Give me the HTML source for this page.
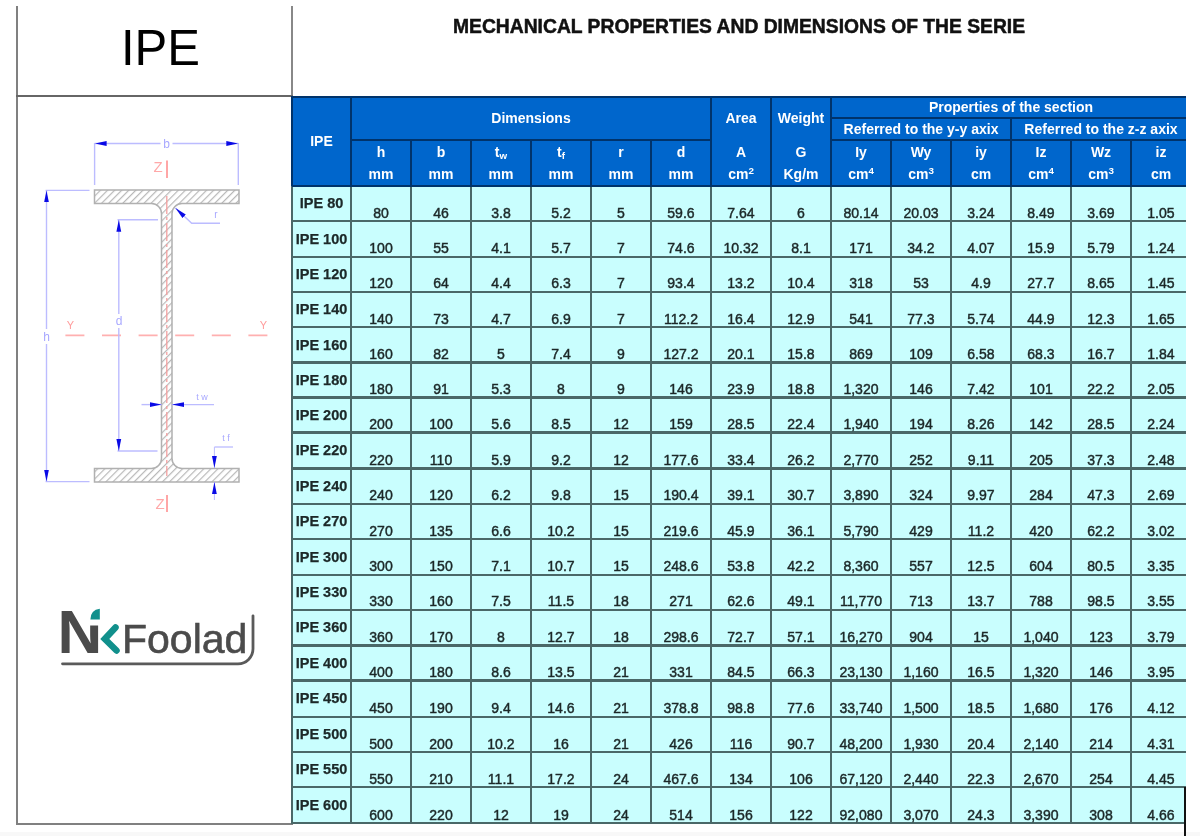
<!DOCTYPE html>
<html><head><meta charset="utf-8"><title>IPE</title>
<style>
html,body{margin:0;padding:0;background:#fff;}
body{width:1200px;height:836px;position:relative;overflow:hidden;font-family:"Liberation Sans",Arial,sans-serif;}
.l{position:absolute;}
.t{position:absolute;text-align:center;white-space:nowrap;line-height:1;}
.hd{transform:scale(1,1);transform-origin:50% 11.85px;font-size:14px;font-weight:bold;color:#fff;}
.lb{transform:scale(1.0,1);transform-origin:50% 12.27px;font-size:14.5px;font-weight:bold;color:#1c2828;-webkit-text-stroke:0.25px #1c2828;}
.vl{transform:scale(0.97,1);transform-origin:50% 12.27px;font-size:14.5px;color:#1c2828;-webkit-text-stroke:0.45px #1c2828;}
sub{font-size:70%;vertical-align:-2px;line-height:0;}
sup{font-size:70%;vertical-align:5px;line-height:0;}
#title{position:absolute;left:453px;top:17.2px;font-size:19.3px;font-weight:bold;color:#111;-webkit-text-stroke:0.5px #111;white-space:nowrap;line-height:1;}
#ipe{position:absolute;left:120.8px;top:23.2px;font-size:50px;transform:scaleX(0.98);transform-origin:0 0;color:#000;line-height:1;}
#bot{position:absolute;left:0;top:832px;width:1200px;height:4px;background:#f8f8f8;}
#logoN{position:absolute;left:57.5px;top:600.9px;font-size:62px;font-weight:bold;color:#4b4b4b;line-height:1;}
#logoF{position:absolute;left:122px;top:618.5px;font-size:41px;letter-spacing:0px;-webkit-text-stroke:0.6px #4b4b4b;color:#4b4b4b;line-height:1;}
#wrap{position:absolute;left:0;top:0;width:1200px;height:836px;filter:blur(0.6px);}
</style></head><body>
<div id="wrap">
<div id="bot"></div>
<!-- left panel frame -->
<div class="l" style="left:15.5px;top:6px;width:2px;height:818.5px;background:#808080"></div>
<div class="l" style="left:290.5px;top:6px;width:2px;height:90px;background:#888"></div>
<div class="l" style="left:15.5px;top:94.5px;width:277px;height:2px;background:#666"></div>
<div class="l" style="left:15.5px;top:822.5px;width:277px;height:2px;background:#808080"></div>
<svg class="l" style="left:0;top:0" width="292" height="836" viewBox="0 0 292 836">
<defs>
<pattern id="hatch" patternUnits="userSpaceOnUse" width="5" height="5" patternTransform="rotate(45)">
<rect x="0" y="0" width="1.2" height="5" fill="#b8b8b8"/>
</pattern>
<marker id="ar" viewBox="0 0 12 6" refX="12" refY="3" markerWidth="12" markerHeight="6" markerUnits="userSpaceOnUse" orient="auto-start-reverse">
<path d="M0,0.6 L12,3 L0,5.4 Z" fill="#0a0ae6"/>
</marker>
</defs>
<!-- section -->
<path d="M94.5,190 H239 V203.5 H182 A10,10 0 0 0 172,213.5 V458.5 A10,10 0 0 0 182,468.5 H239 V482 H94.5 V468.5 H151.5 A10,10 0 0 0 161.5,458.5 V213.5 A10,10 0 0 0 151.5,203.5 H94.5 Z" fill="url(#hatch)" stroke="#b0b0b0" stroke-width="1.5"/>
<!-- Z axis -->
<line x1="166.8" y1="196" x2="166.8" y2="476" stroke="#f4a0a0" stroke-width="1.3" stroke-dasharray="18,3,3,3"/>
<line x1="167" y1="160.5" x2="167" y2="178" stroke="#ff9090" stroke-width="1.6"/>
<line x1="167" y1="495" x2="167" y2="512" stroke="#ff9090" stroke-width="1.6"/>
<text x="158" y="171.5" font-family="Liberation Sans, sans-serif" font-size="15" fill="#ffa8a8" text-anchor="middle">Z</text>
<text x="160" y="509" font-family="Liberation Sans, sans-serif" font-size="15" fill="#ffa8a8" text-anchor="middle">Z</text>
<!-- Y axis -->
<line x1="65.4" y1="335.4" x2="268" y2="335.4" stroke="#ffb0b0" stroke-width="1.6" stroke-dasharray="19,17.6"/>
<text x="70.5" y="329" font-family="Liberation Sans, sans-serif" font-size="11" fill="#ff9c9c" text-anchor="middle">Y</text>
<text x="263.5" y="329" font-family="Liberation Sans, sans-serif" font-size="11" fill="#ff9c9c" text-anchor="middle">Y</text>
<g stroke="#bcbcff" stroke-width="1.4" fill="none">
<!-- b -->
<line x1="94.6" y1="143" x2="94.6" y2="185"/>
<line x1="238.3" y1="143" x2="238.3" y2="185"/>
<line x1="160.5" y1="143.5" x2="94.6" y2="143.5" marker-end="url(#ar)"/>
<line x1="172.5" y1="143.5" x2="238.3" y2="143.5" marker-end="url(#ar)"/>
<!-- h -->
<line x1="45.6" y1="190.4" x2="89.5" y2="190.4"/>
<line x1="45.6" y1="481.6" x2="89.5" y2="481.6"/>
<line x1="46.5" y1="329" x2="46.5" y2="190.4" marker-end="url(#ar)"/>
<line x1="46.5" y1="344" x2="46.5" y2="481.6" marker-end="url(#ar)"/>
<!-- d -->
<line x1="117.5" y1="219.8" x2="158" y2="219.8"/>
<line x1="117.5" y1="451" x2="157.5" y2="451"/>
<line x1="118.8" y1="314" x2="118.8" y2="219.8" marker-end="url(#ar)"/>
<line x1="118.8" y1="328" x2="118.8" y2="451" marker-end="url(#ar)"/>
<!-- tw -->
<line x1="141.5" y1="404.6" x2="161.5" y2="404.6" marker-end="url(#ar)"/>
<line x1="214" y1="404.6" x2="172" y2="404.6" marker-end="url(#ar)"/>
<!-- tf -->
<line x1="214.4" y1="447" x2="214.4" y2="468" marker-end="url(#ar)" stroke-width="1"/>
<line x1="214.4" y1="500" x2="214.4" y2="482" marker-end="url(#ar)" stroke-width="1"/>
<line x1="214.4" y1="447" x2="233" y2="447" stroke-width="1.3"/>
<!-- r -->
<polyline points="220,223.3 191.7,223.3 175.4,207.9" marker-end="url(#ar)"/>
</g>
<g font-family="Liberation Sans, sans-serif" fill="#a8a8ff" text-anchor="middle">
<text x="166.5" y="148" font-size="12">b</text>
<text x="46.7" y="341" font-size="12">h</text>
<text x="119" y="325" font-size="12">d</text>
<text x="216" y="218" font-size="10">r</text>
<text x="202" y="400" font-size="9">t w</text>
<text x="226" y="441" font-size="9">t f</text>
</g>
</svg>

<div id="logoN">N</div>
<div id="logoF">Foolad</div>
<svg class="l" style="left:0;top:580px" width="292" height="100" viewBox="0 580 292 100">
<rect x="89" y="600" width="13" height="25.5" fill="#fff"/>
<path d="M99.8,608.8 L99.8,619.4 L90.4,619.4 Q90.6,610 99.8,608.8 Z" fill="#11908c"/>
<polyline points="115.5,627.5 104.8,639 116.5,650.5" fill="none" stroke="#11908c" stroke-width="6.5" stroke-linejoin="miter" stroke-linecap="round"/>
<path d="M62.5,663.8 H238 A15,15 0 0 0 253,648.8 V615.8" fill="none" stroke="#5a5a5a" stroke-width="2.8" stroke-linecap="round"/>
</svg>
<div id="ipe">IPE</div>
<div id="title">MECHANICAL PROPERTIES AND DIMENSIONS OF THE SERIE</div>
<div class="l" style="left:292px;top:96px;width:894px;height:90px;background:#0066cc"></div>
<div class="l" style="left:292px;top:186px;width:894px;height:637.2px;background:#c9fefe"></div>
<div class="l" style="left:292px;top:219.8px;width:894px;height:2.4px;background:#4a6868"></div>
<div class="l" style="left:292px;top:255.5px;width:894px;height:2.4px;background:#4a6868"></div>
<div class="l" style="left:292px;top:290.7px;width:894px;height:2.4px;background:#4a6868"></div>
<div class="l" style="left:292px;top:326.1px;width:894px;height:2.4px;background:#4a6868"></div>
<div class="l" style="left:292px;top:361.2px;width:894px;height:2.4px;background:#4a6868"></div>
<div class="l" style="left:292px;top:396.4px;width:894px;height:2.4px;background:#4a6868"></div>
<div class="l" style="left:292px;top:431.4px;width:894px;height:2.4px;background:#4a6868"></div>
<div class="l" style="left:292px;top:467.4px;width:894px;height:2.4px;background:#4a6868"></div>
<div class="l" style="left:292px;top:502.6px;width:894px;height:2.4px;background:#4a6868"></div>
<div class="l" style="left:292px;top:538.1px;width:894px;height:2.4px;background:#4a6868"></div>
<div class="l" style="left:292px;top:573.5px;width:894px;height:2.4px;background:#4a6868"></div>
<div class="l" style="left:292px;top:608.7px;width:894px;height:2.4px;background:#4a6868"></div>
<div class="l" style="left:292px;top:644.2px;width:894px;height:2.4px;background:#4a6868"></div>
<div class="l" style="left:292px;top:679.4px;width:894px;height:2.4px;background:#4a6868"></div>
<div class="l" style="left:292px;top:715.6px;width:894px;height:2.4px;background:#4a6868"></div>
<div class="l" style="left:292px;top:751.1px;width:894px;height:2.4px;background:#4a6868"></div>
<div class="l" style="left:292px;top:786px;width:894px;height:2.4px;background:#4a6868"></div>
<div class="l" style="left:292px;top:822px;width:894px;height:2.4px;background:#4a6868"></div>
<div class="l" style="left:290.8px;top:186px;width:2.4px;height:638.4px;background:#4a6868"></div>
<div class="l" style="left:349.8px;top:186px;width:2.4px;height:638.4px;background:#4a6868"></div>
<div class="l" style="left:409.8px;top:186px;width:2.4px;height:638.4px;background:#4a6868"></div>
<div class="l" style="left:469.8px;top:186px;width:2.4px;height:638.4px;background:#4a6868"></div>
<div class="l" style="left:529.8px;top:186px;width:2.4px;height:638.4px;background:#4a6868"></div>
<div class="l" style="left:589.8px;top:186px;width:2.4px;height:638.4px;background:#4a6868"></div>
<div class="l" style="left:649.8px;top:186px;width:2.4px;height:638.4px;background:#4a6868"></div>
<div class="l" style="left:709.8px;top:186px;width:2.4px;height:638.4px;background:#4a6868"></div>
<div class="l" style="left:769.8px;top:186px;width:2.4px;height:638.4px;background:#4a6868"></div>
<div class="l" style="left:829.8px;top:186px;width:2.4px;height:638.4px;background:#4a6868"></div>
<div class="l" style="left:889.8px;top:186px;width:2.4px;height:638.4px;background:#4a6868"></div>
<div class="l" style="left:949.8px;top:186px;width:2.4px;height:638.4px;background:#4a6868"></div>
<div class="l" style="left:1009.8px;top:186px;width:2.4px;height:638.4px;background:#4a6868"></div>
<div class="l" style="left:1069.8px;top:186px;width:2.4px;height:638.4px;background:#4a6868"></div>
<div class="l" style="left:1129.8px;top:186px;width:2.4px;height:638.4px;background:#4a6868"></div>
<div class="l" style="left:292px;top:96px;width:894px;height:2px;background:#00336b"></div>
<div class="l" style="left:292px;top:185px;width:894px;height:2px;background:#00336b"></div>
<div class="l" style="left:291px;top:96px;width:2px;height:90px;background:#00336b"></div>
<div class="l" style="left:350px;top:96px;width:2px;height:90px;background:#00336b"></div>
<div class="l" style="left:410px;top:139.5px;width:2px;height:46.5px;background:#00336b"></div>
<div class="l" style="left:470px;top:139.5px;width:2px;height:46.5px;background:#00336b"></div>
<div class="l" style="left:530px;top:139.5px;width:2px;height:46.5px;background:#00336b"></div>
<div class="l" style="left:590px;top:139.5px;width:2px;height:46.5px;background:#00336b"></div>
<div class="l" style="left:650px;top:139.5px;width:2px;height:46.5px;background:#00336b"></div>
<div class="l" style="left:710px;top:96px;width:2px;height:90px;background:#00336b"></div>
<div class="l" style="left:770px;top:96px;width:2px;height:90px;background:#00336b"></div>
<div class="l" style="left:830px;top:96px;width:2px;height:90px;background:#00336b"></div>
<div class="l" style="left:890px;top:139.5px;width:2px;height:46.5px;background:#00336b"></div>
<div class="l" style="left:950px;top:139.5px;width:2px;height:46.5px;background:#00336b"></div>
<div class="l" style="left:1010px;top:117.5px;width:2px;height:68.5px;background:#00336b"></div>
<div class="l" style="left:1070px;top:139.5px;width:2px;height:46.5px;background:#00336b"></div>
<div class="l" style="left:1130px;top:139.5px;width:2px;height:46.5px;background:#00336b"></div>
<div class="l" style="left:351px;top:138.5px;width:360px;height:2px;background:#00336b"></div>
<div class="l" style="left:831px;top:116.5px;width:355px;height:2px;background:#00336b"></div>
<div class="l" style="left:831px;top:138.5px;width:355px;height:2px;background:#00336b"></div>
<div class="t hd" style="left:292px;width:59px;top:134.15px;">IPE</div>
<div class="t hd" style="left:351px;width:360px;top:110.65px;">Dimensions</div>
<div class="t hd" style="left:351px;width:60px;top:144.65px;">h</div>
<div class="t hd" style="left:351px;width:60px;top:166.65px;">mm</div>
<div class="t hd" style="left:411px;width:60px;top:144.65px;">b</div>
<div class="t hd" style="left:411px;width:60px;top:166.65px;">mm</div>
<div class="t hd" style="left:471px;width:60px;top:144.65px;">t<sub>w</sub></div>
<div class="t hd" style="left:471px;width:60px;top:166.65px;">mm</div>
<div class="t hd" style="left:531px;width:60px;top:144.65px;">t<sub>f</sub></div>
<div class="t hd" style="left:531px;width:60px;top:166.65px;">mm</div>
<div class="t hd" style="left:591px;width:60px;top:144.65px;">r</div>
<div class="t hd" style="left:591px;width:60px;top:166.65px;">mm</div>
<div class="t hd" style="left:651px;width:60px;top:144.65px;">d</div>
<div class="t hd" style="left:651px;width:60px;top:166.65px;">mm</div>
<div class="t hd" style="left:711px;width:60px;top:144.65px;">A</div>
<div class="t hd" style="left:711px;width:60px;top:166.65px;">cm<sup>2</sup></div>
<div class="t hd" style="left:771px;width:60px;top:144.65px;">G</div>
<div class="t hd" style="left:771px;width:60px;top:166.65px;">Kg/m</div>
<div class="t hd" style="left:831px;width:60px;top:144.65px;">Iy</div>
<div class="t hd" style="left:831px;width:60px;top:166.65px;">cm<sup>4</sup></div>
<div class="t hd" style="left:891px;width:60px;top:144.65px;">Wy</div>
<div class="t hd" style="left:891px;width:60px;top:166.65px;">cm<sup>3</sup></div>
<div class="t hd" style="left:951px;width:60px;top:144.65px;">iy</div>
<div class="t hd" style="left:951px;width:60px;top:166.65px;">cm</div>
<div class="t hd" style="left:1011px;width:60px;top:144.65px;">Iz</div>
<div class="t hd" style="left:1011px;width:60px;top:166.65px;">cm<sup>4</sup></div>
<div class="t hd" style="left:1071px;width:60px;top:144.65px;">Wz</div>
<div class="t hd" style="left:1071px;width:60px;top:166.65px;">cm<sup>3</sup></div>
<div class="t hd" style="left:1131px;width:60px;top:144.65px;">iz</div>
<div class="t hd" style="left:1131px;width:60px;top:166.65px;">cm</div>
<div class="t hd" style="left:711px;width:60px;top:111.15px;">Area</div>
<div class="t hd" style="left:771px;width:60px;top:111.15px;">Weight</div>
<div class="t hd" style="left:831px;width:360px;top:99.55px;">Properties of the section</div>
<div class="t hd" style="left:831px;width:180px;top:122.15px;">Referred to the y-y axix</div>
<div class="t hd" style="left:1011px;width:180px;top:122.15px;">Referred to the z-z axix</div>
<div class="t lb" style="left:292px;width:59px;top:195.98px;">IPE 80</div>
<div class="t vl" style="left:351px;width:60px;top:205.53px;">80</div>
<div class="t vl" style="left:411px;width:60px;top:205.53px;">46</div>
<div class="t vl" style="left:471px;width:60px;top:205.53px;">3.8</div>
<div class="t vl" style="left:531px;width:60px;top:205.53px;">5.2</div>
<div class="t vl" style="left:591px;width:60px;top:205.53px;">5</div>
<div class="t vl" style="left:651px;width:60px;top:205.53px;">59.6</div>
<div class="t vl" style="left:711px;width:60px;top:205.53px;">7.64</div>
<div class="t vl" style="left:771px;width:60px;top:205.53px;">6</div>
<div class="t vl" style="left:831px;width:60px;top:205.53px;">80.14</div>
<div class="t vl" style="left:891px;width:60px;top:205.53px;">20.03</div>
<div class="t vl" style="left:951px;width:60px;top:205.53px;">3.24</div>
<div class="t vl" style="left:1011px;width:60px;top:205.53px;">8.49</div>
<div class="t vl" style="left:1071px;width:60px;top:205.53px;">3.69</div>
<div class="t vl" style="left:1131px;width:60px;top:205.53px;">1.05</div>
<div class="t lb" style="left:292px;width:59px;top:231.58px;">IPE 100</div>
<div class="t vl" style="left:351px;width:60px;top:241.23px;">100</div>
<div class="t vl" style="left:411px;width:60px;top:241.23px;">55</div>
<div class="t vl" style="left:471px;width:60px;top:241.23px;">4.1</div>
<div class="t vl" style="left:531px;width:60px;top:241.23px;">5.7</div>
<div class="t vl" style="left:591px;width:60px;top:241.23px;">7</div>
<div class="t vl" style="left:651px;width:60px;top:241.23px;">74.6</div>
<div class="t vl" style="left:711px;width:60px;top:241.23px;">10.32</div>
<div class="t vl" style="left:771px;width:60px;top:241.23px;">8.1</div>
<div class="t vl" style="left:831px;width:60px;top:241.23px;">171</div>
<div class="t vl" style="left:891px;width:60px;top:241.23px;">34.2</div>
<div class="t vl" style="left:951px;width:60px;top:241.23px;">4.07</div>
<div class="t vl" style="left:1011px;width:60px;top:241.23px;">15.9</div>
<div class="t vl" style="left:1071px;width:60px;top:241.23px;">5.79</div>
<div class="t vl" style="left:1131px;width:60px;top:241.23px;">1.24</div>
<div class="t lb" style="left:292px;width:59px;top:267.03px;">IPE 120</div>
<div class="t vl" style="left:351px;width:60px;top:276.43px;">120</div>
<div class="t vl" style="left:411px;width:60px;top:276.43px;">64</div>
<div class="t vl" style="left:471px;width:60px;top:276.43px;">4.4</div>
<div class="t vl" style="left:531px;width:60px;top:276.43px;">6.3</div>
<div class="t vl" style="left:591px;width:60px;top:276.43px;">7</div>
<div class="t vl" style="left:651px;width:60px;top:276.43px;">93.4</div>
<div class="t vl" style="left:711px;width:60px;top:276.43px;">13.2</div>
<div class="t vl" style="left:771px;width:60px;top:276.43px;">10.4</div>
<div class="t vl" style="left:831px;width:60px;top:276.43px;">318</div>
<div class="t vl" style="left:891px;width:60px;top:276.43px;">53</div>
<div class="t vl" style="left:951px;width:60px;top:276.43px;">4.9</div>
<div class="t vl" style="left:1011px;width:60px;top:276.43px;">27.7</div>
<div class="t vl" style="left:1071px;width:60px;top:276.43px;">8.65</div>
<div class="t vl" style="left:1131px;width:60px;top:276.43px;">1.45</div>
<div class="t lb" style="left:292px;width:59px;top:302.33px;">IPE 140</div>
<div class="t vl" style="left:351px;width:60px;top:311.83px;">140</div>
<div class="t vl" style="left:411px;width:60px;top:311.83px;">73</div>
<div class="t vl" style="left:471px;width:60px;top:311.83px;">4.7</div>
<div class="t vl" style="left:531px;width:60px;top:311.83px;">6.9</div>
<div class="t vl" style="left:591px;width:60px;top:311.83px;">7</div>
<div class="t vl" style="left:651px;width:60px;top:311.83px;">112.2</div>
<div class="t vl" style="left:711px;width:60px;top:311.83px;">16.4</div>
<div class="t vl" style="left:771px;width:60px;top:311.83px;">12.9</div>
<div class="t vl" style="left:831px;width:60px;top:311.83px;">541</div>
<div class="t vl" style="left:891px;width:60px;top:311.83px;">77.3</div>
<div class="t vl" style="left:951px;width:60px;top:311.83px;">5.74</div>
<div class="t vl" style="left:1011px;width:60px;top:311.83px;">44.9</div>
<div class="t vl" style="left:1071px;width:60px;top:311.83px;">12.3</div>
<div class="t vl" style="left:1131px;width:60px;top:311.83px;">1.65</div>
<div class="t lb" style="left:292px;width:59px;top:337.58px;">IPE 160</div>
<div class="t vl" style="left:351px;width:60px;top:346.93px;">160</div>
<div class="t vl" style="left:411px;width:60px;top:346.93px;">82</div>
<div class="t vl" style="left:471px;width:60px;top:346.93px;">5</div>
<div class="t vl" style="left:531px;width:60px;top:346.93px;">7.4</div>
<div class="t vl" style="left:591px;width:60px;top:346.93px;">9</div>
<div class="t vl" style="left:651px;width:60px;top:346.93px;">127.2</div>
<div class="t vl" style="left:711px;width:60px;top:346.93px;">20.1</div>
<div class="t vl" style="left:771px;width:60px;top:346.93px;">15.8</div>
<div class="t vl" style="left:831px;width:60px;top:346.93px;">869</div>
<div class="t vl" style="left:891px;width:60px;top:346.93px;">109</div>
<div class="t vl" style="left:951px;width:60px;top:346.93px;">6.58</div>
<div class="t vl" style="left:1011px;width:60px;top:346.93px;">68.3</div>
<div class="t vl" style="left:1071px;width:60px;top:346.93px;">16.7</div>
<div class="t vl" style="left:1131px;width:60px;top:346.93px;">1.84</div>
<div class="t lb" style="left:292px;width:59px;top:372.73px;">IPE 180</div>
<div class="t vl" style="left:351px;width:60px;top:382.13px;">180</div>
<div class="t vl" style="left:411px;width:60px;top:382.13px;">91</div>
<div class="t vl" style="left:471px;width:60px;top:382.13px;">5.3</div>
<div class="t vl" style="left:531px;width:60px;top:382.13px;">8</div>
<div class="t vl" style="left:591px;width:60px;top:382.13px;">9</div>
<div class="t vl" style="left:651px;width:60px;top:382.13px;">146</div>
<div class="t vl" style="left:711px;width:60px;top:382.13px;">23.9</div>
<div class="t vl" style="left:771px;width:60px;top:382.13px;">18.8</div>
<div class="t vl" style="left:831px;width:60px;top:382.13px;">1,320</div>
<div class="t vl" style="left:891px;width:60px;top:382.13px;">146</div>
<div class="t vl" style="left:951px;width:60px;top:382.13px;">7.42</div>
<div class="t vl" style="left:1011px;width:60px;top:382.13px;">101</div>
<div class="t vl" style="left:1071px;width:60px;top:382.13px;">22.2</div>
<div class="t vl" style="left:1131px;width:60px;top:382.13px;">2.05</div>
<div class="t lb" style="left:292px;width:59px;top:407.83px;">IPE 200</div>
<div class="t vl" style="left:351px;width:60px;top:417.13px;">200</div>
<div class="t vl" style="left:411px;width:60px;top:417.13px;">100</div>
<div class="t vl" style="left:471px;width:60px;top:417.13px;">5.6</div>
<div class="t vl" style="left:531px;width:60px;top:417.13px;">8.5</div>
<div class="t vl" style="left:591px;width:60px;top:417.13px;">12</div>
<div class="t vl" style="left:651px;width:60px;top:417.13px;">159</div>
<div class="t vl" style="left:711px;width:60px;top:417.13px;">28.5</div>
<div class="t vl" style="left:771px;width:60px;top:417.13px;">22.4</div>
<div class="t vl" style="left:831px;width:60px;top:417.13px;">1,940</div>
<div class="t vl" style="left:891px;width:60px;top:417.13px;">194</div>
<div class="t vl" style="left:951px;width:60px;top:417.13px;">8.26</div>
<div class="t vl" style="left:1011px;width:60px;top:417.13px;">142</div>
<div class="t vl" style="left:1071px;width:60px;top:417.13px;">28.5</div>
<div class="t vl" style="left:1131px;width:60px;top:417.13px;">2.24</div>
<div class="t lb" style="left:292px;width:59px;top:443.33px;">IPE 220</div>
<div class="t vl" style="left:351px;width:60px;top:453.13px;">220</div>
<div class="t vl" style="left:411px;width:60px;top:453.13px;">110</div>
<div class="t vl" style="left:471px;width:60px;top:453.13px;">5.9</div>
<div class="t vl" style="left:531px;width:60px;top:453.13px;">9.2</div>
<div class="t vl" style="left:591px;width:60px;top:453.13px;">12</div>
<div class="t vl" style="left:651px;width:60px;top:453.13px;">177.6</div>
<div class="t vl" style="left:711px;width:60px;top:453.13px;">33.4</div>
<div class="t vl" style="left:771px;width:60px;top:453.13px;">26.2</div>
<div class="t vl" style="left:831px;width:60px;top:453.13px;">2,770</div>
<div class="t vl" style="left:891px;width:60px;top:453.13px;">252</div>
<div class="t vl" style="left:951px;width:60px;top:453.13px;">9.11</div>
<div class="t vl" style="left:1011px;width:60px;top:453.13px;">205</div>
<div class="t vl" style="left:1071px;width:60px;top:453.13px;">37.3</div>
<div class="t vl" style="left:1131px;width:60px;top:453.13px;">2.48</div>
<div class="t lb" style="left:292px;width:59px;top:478.93px;">IPE 240</div>
<div class="t vl" style="left:351px;width:60px;top:488.33px;">240</div>
<div class="t vl" style="left:411px;width:60px;top:488.33px;">120</div>
<div class="t vl" style="left:471px;width:60px;top:488.33px;">6.2</div>
<div class="t vl" style="left:531px;width:60px;top:488.33px;">9.8</div>
<div class="t vl" style="left:591px;width:60px;top:488.33px;">15</div>
<div class="t vl" style="left:651px;width:60px;top:488.33px;">190.4</div>
<div class="t vl" style="left:711px;width:60px;top:488.33px;">39.1</div>
<div class="t vl" style="left:771px;width:60px;top:488.33px;">30.7</div>
<div class="t vl" style="left:831px;width:60px;top:488.33px;">3,890</div>
<div class="t vl" style="left:891px;width:60px;top:488.33px;">324</div>
<div class="t vl" style="left:951px;width:60px;top:488.33px;">9.97</div>
<div class="t vl" style="left:1011px;width:60px;top:488.33px;">284</div>
<div class="t vl" style="left:1071px;width:60px;top:488.33px;">47.3</div>
<div class="t vl" style="left:1131px;width:60px;top:488.33px;">2.69</div>
<div class="t lb" style="left:292px;width:59px;top:514.28px;">IPE 270</div>
<div class="t vl" style="left:351px;width:60px;top:523.83px;">270</div>
<div class="t vl" style="left:411px;width:60px;top:523.83px;">135</div>
<div class="t vl" style="left:471px;width:60px;top:523.83px;">6.6</div>
<div class="t vl" style="left:531px;width:60px;top:523.83px;">10.2</div>
<div class="t vl" style="left:591px;width:60px;top:523.83px;">15</div>
<div class="t vl" style="left:651px;width:60px;top:523.83px;">219.6</div>
<div class="t vl" style="left:711px;width:60px;top:523.83px;">45.9</div>
<div class="t vl" style="left:771px;width:60px;top:523.83px;">36.1</div>
<div class="t vl" style="left:831px;width:60px;top:523.83px;">5,790</div>
<div class="t vl" style="left:891px;width:60px;top:523.83px;">429</div>
<div class="t vl" style="left:951px;width:60px;top:523.83px;">11.2</div>
<div class="t vl" style="left:1011px;width:60px;top:523.83px;">420</div>
<div class="t vl" style="left:1071px;width:60px;top:523.83px;">62.2</div>
<div class="t vl" style="left:1131px;width:60px;top:523.83px;">3.02</div>
<div class="t lb" style="left:292px;width:59px;top:549.73px;">IPE 300</div>
<div class="t vl" style="left:351px;width:60px;top:559.23px;">300</div>
<div class="t vl" style="left:411px;width:60px;top:559.23px;">150</div>
<div class="t vl" style="left:471px;width:60px;top:559.23px;">7.1</div>
<div class="t vl" style="left:531px;width:60px;top:559.23px;">10.7</div>
<div class="t vl" style="left:591px;width:60px;top:559.23px;">15</div>
<div class="t vl" style="left:651px;width:60px;top:559.23px;">248.6</div>
<div class="t vl" style="left:711px;width:60px;top:559.23px;">53.8</div>
<div class="t vl" style="left:771px;width:60px;top:559.23px;">42.2</div>
<div class="t vl" style="left:831px;width:60px;top:559.23px;">8,360</div>
<div class="t vl" style="left:891px;width:60px;top:559.23px;">557</div>
<div class="t vl" style="left:951px;width:60px;top:559.23px;">12.5</div>
<div class="t vl" style="left:1011px;width:60px;top:559.23px;">604</div>
<div class="t vl" style="left:1071px;width:60px;top:559.23px;">80.5</div>
<div class="t vl" style="left:1131px;width:60px;top:559.23px;">3.35</div>
<div class="t lb" style="left:292px;width:59px;top:585.03px;">IPE 330</div>
<div class="t vl" style="left:351px;width:60px;top:594.43px;">330</div>
<div class="t vl" style="left:411px;width:60px;top:594.43px;">160</div>
<div class="t vl" style="left:471px;width:60px;top:594.43px;">7.5</div>
<div class="t vl" style="left:531px;width:60px;top:594.43px;">11.5</div>
<div class="t vl" style="left:591px;width:60px;top:594.43px;">18</div>
<div class="t vl" style="left:651px;width:60px;top:594.43px;">271</div>
<div class="t vl" style="left:711px;width:60px;top:594.43px;">62.6</div>
<div class="t vl" style="left:771px;width:60px;top:594.43px;">49.1</div>
<div class="t vl" style="left:831px;width:60px;top:594.43px;">11,770</div>
<div class="t vl" style="left:891px;width:60px;top:594.43px;">713</div>
<div class="t vl" style="left:951px;width:60px;top:594.43px;">13.7</div>
<div class="t vl" style="left:1011px;width:60px;top:594.43px;">788</div>
<div class="t vl" style="left:1071px;width:60px;top:594.43px;">98.5</div>
<div class="t vl" style="left:1131px;width:60px;top:594.43px;">3.55</div>
<div class="t lb" style="left:292px;width:59px;top:620.38px;">IPE 360</div>
<div class="t vl" style="left:351px;width:60px;top:629.93px;">360</div>
<div class="t vl" style="left:411px;width:60px;top:629.93px;">170</div>
<div class="t vl" style="left:471px;width:60px;top:629.93px;">8</div>
<div class="t vl" style="left:531px;width:60px;top:629.93px;">12.7</div>
<div class="t vl" style="left:591px;width:60px;top:629.93px;">18</div>
<div class="t vl" style="left:651px;width:60px;top:629.93px;">298.6</div>
<div class="t vl" style="left:711px;width:60px;top:629.93px;">72.7</div>
<div class="t vl" style="left:771px;width:60px;top:629.93px;">57.1</div>
<div class="t vl" style="left:831px;width:60px;top:629.93px;">16,270</div>
<div class="t vl" style="left:891px;width:60px;top:629.93px;">904</div>
<div class="t vl" style="left:951px;width:60px;top:629.93px;">15</div>
<div class="t vl" style="left:1011px;width:60px;top:629.93px;">1,040</div>
<div class="t vl" style="left:1071px;width:60px;top:629.93px;">123</div>
<div class="t vl" style="left:1131px;width:60px;top:629.93px;">3.79</div>
<div class="t lb" style="left:292px;width:59px;top:655.73px;">IPE 400</div>
<div class="t vl" style="left:351px;width:60px;top:665.13px;">400</div>
<div class="t vl" style="left:411px;width:60px;top:665.13px;">180</div>
<div class="t vl" style="left:471px;width:60px;top:665.13px;">8.6</div>
<div class="t vl" style="left:531px;width:60px;top:665.13px;">13.5</div>
<div class="t vl" style="left:591px;width:60px;top:665.13px;">21</div>
<div class="t vl" style="left:651px;width:60px;top:665.13px;">331</div>
<div class="t vl" style="left:711px;width:60px;top:665.13px;">84.5</div>
<div class="t vl" style="left:771px;width:60px;top:665.13px;">66.3</div>
<div class="t vl" style="left:831px;width:60px;top:665.13px;">23,130</div>
<div class="t vl" style="left:891px;width:60px;top:665.13px;">1,160</div>
<div class="t vl" style="left:951px;width:60px;top:665.13px;">16.5</div>
<div class="t vl" style="left:1011px;width:60px;top:665.13px;">1,320</div>
<div class="t vl" style="left:1071px;width:60px;top:665.13px;">146</div>
<div class="t vl" style="left:1131px;width:60px;top:665.13px;">3.95</div>
<div class="t lb" style="left:292px;width:59px;top:691.43px;">IPE 450</div>
<div class="t vl" style="left:351px;width:60px;top:701.33px;">450</div>
<div class="t vl" style="left:411px;width:60px;top:701.33px;">190</div>
<div class="t vl" style="left:471px;width:60px;top:701.33px;">9.4</div>
<div class="t vl" style="left:531px;width:60px;top:701.33px;">14.6</div>
<div class="t vl" style="left:591px;width:60px;top:701.33px;">21</div>
<div class="t vl" style="left:651px;width:60px;top:701.33px;">378.8</div>
<div class="t vl" style="left:711px;width:60px;top:701.33px;">98.8</div>
<div class="t vl" style="left:771px;width:60px;top:701.33px;">77.6</div>
<div class="t vl" style="left:831px;width:60px;top:701.33px;">33,740</div>
<div class="t vl" style="left:891px;width:60px;top:701.33px;">1,500</div>
<div class="t vl" style="left:951px;width:60px;top:701.33px;">18.5</div>
<div class="t vl" style="left:1011px;width:60px;top:701.33px;">1,680</div>
<div class="t vl" style="left:1071px;width:60px;top:701.33px;">176</div>
<div class="t vl" style="left:1131px;width:60px;top:701.33px;">4.12</div>
<div class="t lb" style="left:292px;width:59px;top:727.28px;">IPE 500</div>
<div class="t vl" style="left:351px;width:60px;top:736.83px;">500</div>
<div class="t vl" style="left:411px;width:60px;top:736.83px;">200</div>
<div class="t vl" style="left:471px;width:60px;top:736.83px;">10.2</div>
<div class="t vl" style="left:531px;width:60px;top:736.83px;">16</div>
<div class="t vl" style="left:591px;width:60px;top:736.83px;">21</div>
<div class="t vl" style="left:651px;width:60px;top:736.83px;">426</div>
<div class="t vl" style="left:711px;width:60px;top:736.83px;">116</div>
<div class="t vl" style="left:771px;width:60px;top:736.83px;">90.7</div>
<div class="t vl" style="left:831px;width:60px;top:736.83px;">48,200</div>
<div class="t vl" style="left:891px;width:60px;top:736.83px;">1,930</div>
<div class="t vl" style="left:951px;width:60px;top:736.83px;">20.4</div>
<div class="t vl" style="left:1011px;width:60px;top:736.83px;">2,140</div>
<div class="t vl" style="left:1071px;width:60px;top:736.83px;">214</div>
<div class="t vl" style="left:1131px;width:60px;top:736.83px;">4.31</div>
<div class="t lb" style="left:292px;width:59px;top:762.48px;">IPE 550</div>
<div class="t vl" style="left:351px;width:60px;top:771.73px;">550</div>
<div class="t vl" style="left:411px;width:60px;top:771.73px;">210</div>
<div class="t vl" style="left:471px;width:60px;top:771.73px;">11.1</div>
<div class="t vl" style="left:531px;width:60px;top:771.73px;">17.2</div>
<div class="t vl" style="left:591px;width:60px;top:771.73px;">24</div>
<div class="t vl" style="left:651px;width:60px;top:771.73px;">467.6</div>
<div class="t vl" style="left:711px;width:60px;top:771.73px;">134</div>
<div class="t vl" style="left:771px;width:60px;top:771.73px;">106</div>
<div class="t vl" style="left:831px;width:60px;top:771.73px;">67,120</div>
<div class="t vl" style="left:891px;width:60px;top:771.73px;">2,440</div>
<div class="t vl" style="left:951px;width:60px;top:771.73px;">22.3</div>
<div class="t vl" style="left:1011px;width:60px;top:771.73px;">2,670</div>
<div class="t vl" style="left:1071px;width:60px;top:771.73px;">254</div>
<div class="t vl" style="left:1131px;width:60px;top:771.73px;">4.45</div>
<div class="t lb" style="left:292px;width:59px;top:797.93px;">IPE 600</div>
<div class="t vl" style="left:351px;width:60px;top:807.73px;">600</div>
<div class="t vl" style="left:411px;width:60px;top:807.73px;">220</div>
<div class="t vl" style="left:471px;width:60px;top:807.73px;">12</div>
<div class="t vl" style="left:531px;width:60px;top:807.73px;">19</div>
<div class="t vl" style="left:591px;width:60px;top:807.73px;">24</div>
<div class="t vl" style="left:651px;width:60px;top:807.73px;">514</div>
<div class="t vl" style="left:711px;width:60px;top:807.73px;">156</div>
<div class="t vl" style="left:771px;width:60px;top:807.73px;">122</div>
<div class="t vl" style="left:831px;width:60px;top:807.73px;">92,080</div>
<div class="t vl" style="left:891px;width:60px;top:807.73px;">3,070</div>
<div class="t vl" style="left:951px;width:60px;top:807.73px;">24.3</div>
<div class="t vl" style="left:1011px;width:60px;top:807.73px;">3,390</div>
<div class="t vl" style="left:1071px;width:60px;top:807.73px;">308</div>
<div class="t vl" style="left:1131px;width:60px;top:807.73px;">4.66</div>
<div class="l" style="left:1183.5px;top:787px;width:2.5px;height:49px;background:#111"></div>
</div>
</body></html>
